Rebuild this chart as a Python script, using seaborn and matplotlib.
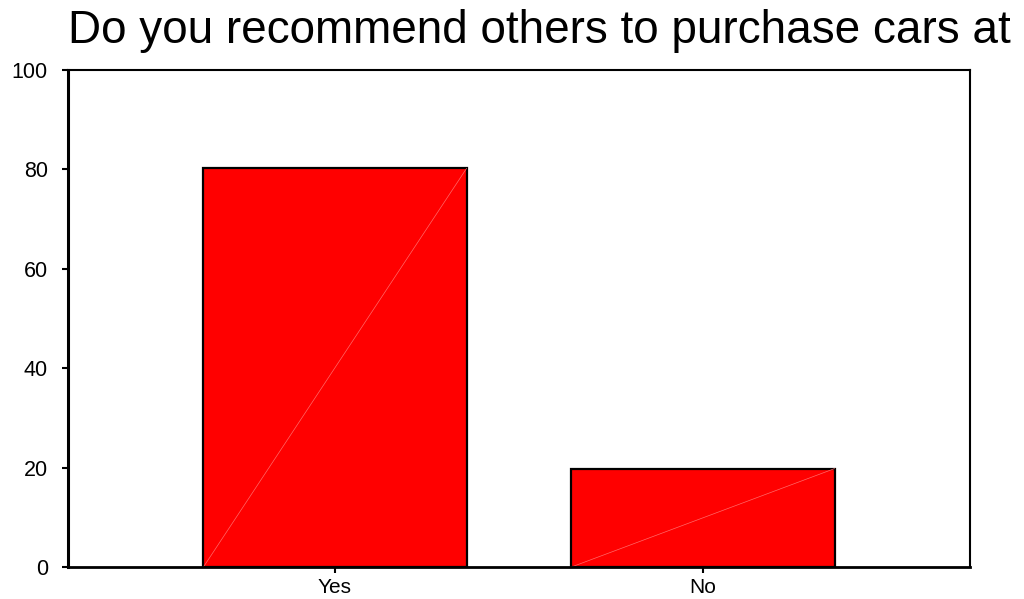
import matplotlib
matplotlib.use("Agg")
import matplotlib.pyplot as plt
import seaborn as sns
import pandas as pd

# Survey answers (percent of respondents)
categories = ["Yes", "No"]
percents = [80.2, 19.8]
y_ticks = [0, 20, 40, 60, 80, 100]
title_text = "Do you recommend others to purchase cars at"

sns.set_style("ticks")
plt.rcParams["font.family"] = ["Liberation Sans", "DejaVu Sans"]

df = pd.DataFrame({"answer": categories, "percent": percents})

fig = plt.figure(figsize=(10.24, 5.99), dpi=100)
ax = fig.add_axes([68 / 1024, 32 / 599, 902 / 1024, 497 / 599])

sns.barplot(data=df, x="answer", y="percent", order=categories, color="#ff0000",
            saturation=1, width=0.715, edgecolor="black", linewidth=1.6, ax=ax)

# faint diagonal across each bar
for patch in ax.patches:
    x0, w, h = patch.get_x(), patch.get_width(), patch.get_height()
    ax.plot([x0, x0 + w], [0, h], color="#ff6a6a", lw=0.5, zorder=patch.get_zorder() + 0.1)

ax.set_xlim(-0.7255, 1.7255)
ax.set_ylim(0, 100)
ax.set_yticks(y_ticks)
ax.set_xlabel("")
ax.set_ylabel("")

for side in ["left", "right", "top", "bottom"]:
    ax.spines[side].set_visible(True)
    ax.spines[side].set_color("black")
    ax.spines[side].set_linewidth(1.5)
ax.spines["left"].set_linewidth(2.2)
ax.spines["bottom"].set_linewidth(2.0)

ax.tick_params(axis="y", direction="out", length=4.5, width=1.5, pad=10,
               labelsize=15.5, colors="black")
ax.tick_params(axis="x", direction="out", length=4.5, width=1.5, pad=3.5,
               labelsize=15, colors="black")

fig.text(68 / 1024, 1 - 31 / 599, title_text, ha="left", va="center",
         fontsize=33, color="black")

fig.savefig("out.png", dpi=100, facecolor="white")
